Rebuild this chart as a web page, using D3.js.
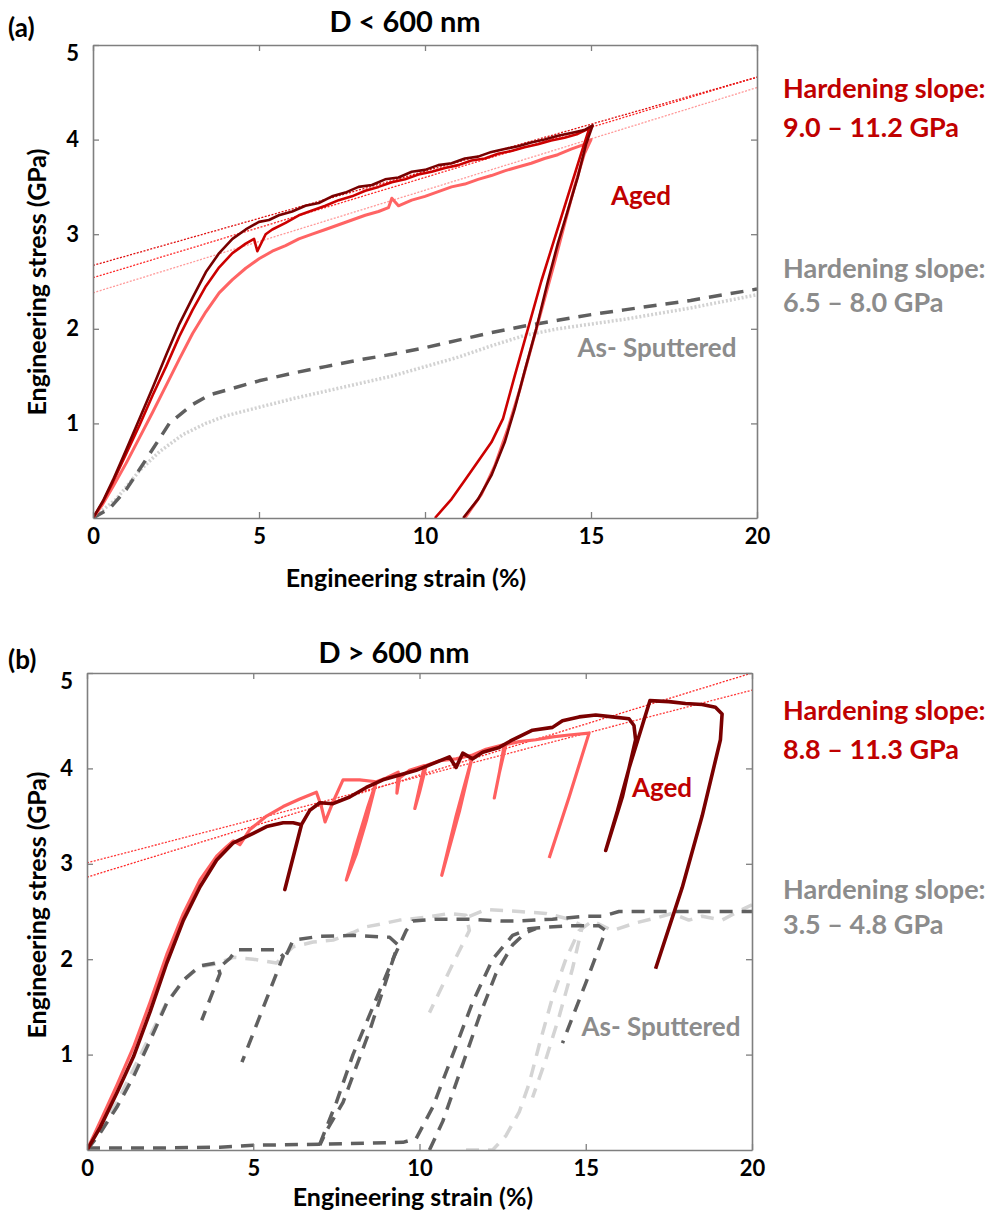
<!DOCTYPE html>
<html><head><meta charset="utf-8">
<script src="https://cdn.jsdelivr.net/npm/d3@7"></script>
<style>
body{margin:0;background:#fff;}
text{font-family:"Lato","Open Sans",sans-serif;font-weight:700;}
</style></head>
<body><svg id="c" width="988" height="1219"></svg>
<script>
// ---------- DATA ----------
const xTicks = [0,5,10,15,20];
const yTicks = [1,2,3,4,5];

// Panel (a)  D < 600 nm
const aAgedDark = [[0,0],[0.3,0.18],[0.6,0.4],[1.0,0.72],[1.4,1.05],[1.8,1.38],[2.2,1.72],[2.6,2.05],[3.0,2.33],[3.4,2.6],[3.8,2.8],[4.2,2.95],[4.6,3.05],[5.0,3.13],[5.3,3.15],[5.6,3.2],[6.0,3.24],[6.4,3.3],[6.8,3.33],[7.2,3.4],[7.6,3.44],[8.0,3.5],[8.4,3.52],[8.8,3.58],[9.2,3.6],[9.6,3.66],[10.0,3.68],[10.4,3.73],[10.8,3.75],[11.2,3.8],[11.6,3.82],[12.0,3.87],[12.4,3.9],[12.8,3.93],[13.2,3.97],[13.6,4.0],[14.0,4.04],[14.4,4.07],[14.8,4.1],[15.05,4.15],
  [14.85,3.95],[14.6,3.6],[14.3,3.25],[14.0,2.9],[13.7,2.5],[13.35,2.0],[13.0,1.55],[12.7,1.15],[12.4,0.8],[12.0,0.45],[11.6,0.2],[11.15,0]];
const aAgedMed = [[0,0],[0.3,0.17],[0.6,0.38],[1.0,0.68],[1.4,0.98],[1.8,1.3],[2.2,1.6],[2.6,1.92],[3.0,2.2],[3.4,2.45],[3.8,2.65],[4.2,2.8],[4.6,2.9],[4.85,2.95],[4.95,2.82],[5.2,3.0],[5.4,3.05],[5.8,3.12],[6.2,3.2],[6.6,3.25],[7.0,3.3],[7.4,3.36],[7.8,3.4],[8.2,3.46],[8.6,3.5],[9.0,3.55],[9.4,3.58],[9.8,3.63],[10.2,3.66],[10.6,3.7],[11.0,3.73],[11.4,3.78],[11.8,3.8],[12.2,3.85],[12.6,3.88],[13.0,3.92],[13.4,3.95],[13.8,3.99],[14.2,4.02],[14.6,4.06],[14.95,4.12],
  [14.7,3.85],[14.3,3.4],[13.9,2.95],[13.5,2.5],[13.1,2.0],[12.7,1.5],[12.35,1.05],[12.0,0.8],[11.6,0.6],[11.2,0.4],[10.8,0.2],[10.3,0]];
const aAgedLight = [[0,0],[0.3,0.15],[0.6,0.33],[1.0,0.58],[1.4,0.85],[1.8,1.12],[2.2,1.4],[2.6,1.68],[3.0,1.95],[3.4,2.18],[3.8,2.38],[4.2,2.52],[4.6,2.64],[5.0,2.74],[5.4,2.82],[5.8,2.88],[6.2,2.95],[6.6,3.0],[7.0,3.05],[7.4,3.1],[7.8,3.15],[8.2,3.2],[8.6,3.24],[8.9,3.28],[9.0,3.38],[9.2,3.3],[9.6,3.36],[10.0,3.4],[10.4,3.45],[10.8,3.5],[11.2,3.53],[11.6,3.58],[12.0,3.62],[12.4,3.67],[12.8,3.71],[13.2,3.75],[13.6,3.8],[14.0,3.84],[14.4,3.9],[14.8,3.95],[15.0,4.0],
  [14.8,3.85],[14.5,3.5],[14.2,3.1],[13.9,2.7],[13.55,2.25],[13.2,1.8],[12.85,1.35],[12.5,0.95],[12.1,0.55],[11.7,0.25],[11.3,0.05],[11.2,0]];
const aSputDark = [[0,0],[0.5,0.1],[1,0.3],[1.6,0.62],[2.3,1.0],[3,1.2],[3.5,1.3],[4.2,1.37],[5,1.45],[6,1.53],[7,1.6],[8,1.67],[9,1.73],[10,1.8],[11,1.88],[12,1.96],[13,2.03],[14,2.09],[15,2.15],[16,2.2],[17,2.25],[18,2.3],[19,2.36],[20,2.42]];
const aSputLight = [[0,0],[0.7,0.2],[1.4,0.5],[2,0.7],[2.7,0.88],[3.4,1.0],[4,1.08],[5,1.17],[6,1.26],[7,1.34],[8,1.42],[9,1.5],[10,1.6],[11,1.7],[12,1.82],[13,1.93],[14,2.0],[15,2.05],[16,2.1],[17,2.16],[18,2.22],[19,2.29],[20,2.36]];
const aFitDark = [[0,2.67],[20,4.66]];
const aFitMed = [[0,2.54],[20,4.66]];
const aFitLight = [[0,2.38],[20,4.55]];

// Panel (b)  D > 600 nm
const bAgedDark = [[0,0],[0.4,0.24],[0.9,0.6],[1.4,0.98],[1.9,1.45],[2.4,1.96],[2.9,2.41],[3.4,2.76],[3.9,3.04],[4.4,3.22],[5.0,3.32],[5.4,3.39],[5.9,3.43],[6.2,3.43],[6.45,3.41],[6.2,3.07],[5.95,2.73],[6.45,3.41],[6.7,3.56],[7.0,3.64],[7.4,3.63],[7.9,3.7],[8.4,3.8],[8.9,3.88],[9.4,3.93],[9.9,3.98],[10.4,4.05],[10.9,4.12],[11.1,4.01],[11.3,4.16],[11.6,4.1],[11.9,4.17],[12.4,4.22],[12.8,4.3],[13.4,4.4],[14.0,4.43],[14.3,4.5],[14.8,4.54],[15.3,4.56],[15.8,4.54],[16.3,4.52],[16.45,4.45],[16.5,4.3],[16.1,3.7],[15.6,3.14],[15.95,3.55],[16.3,4.0],[16.7,4.45],[16.93,4.71],[17.5,4.7],[18,4.68],[18.5,4.67],[18.9,4.64],[19.1,4.57],[19.05,4.3],[18.5,3.5],[17.9,2.75],[17.1,1.9]];
const bAgedLight = [[0,0],[0.4,0.3],[0.9,0.68],[1.4,1.08],[1.9,1.55],[2.4,2.05],[2.9,2.48],[3.4,2.83],[3.9,3.08],[4.2,3.18],[4.4,3.24],[4.6,3.2],[4.9,3.36],[5.4,3.5],[5.9,3.6],[6.4,3.68],[6.9,3.75],[7.05,3.6],[7.16,3.44],[7.4,3.65],[7.7,3.88],[8.2,3.88],[8.7,3.86],[8.4,3.45],[8.1,3.1],[7.8,2.83],[8.1,3.2],[8.45,3.6],[8.7,3.86],[9.0,3.9],[9.36,3.96],[9.32,3.74],[9.4,3.9],[9.7,3.98],[10.15,4.03],[10.0,3.8],[9.86,3.58],[10.0,3.75],[10.2,4.03],[10.6,4.08],[11.1,4.1],[11.6,4.14],[11.2,3.55],[10.67,2.88],[11.1,3.5],[11.6,4.14],[12.0,4.2],[12.55,4.25],[12.4,3.95],[12.25,3.69],[12.4,3.95],[12.6,4.25],[13.0,4.28],[13.5,4.3],[14.0,4.33],[14.5,4.35],[15.1,4.37],[14.5,3.7],[13.9,3.06]];
const bFitA = [[0,2.86],[20,5.0]];
const bFitB = [[0,3.01],[20,4.82]];
const bSputDark = [
  [[0,0],[0.4,0.18],[0.9,0.45],[1.4,0.77],[1.9,1.15],[2.4,1.54],[2.9,1.78],[3.4,1.93],[3.9,1.96],[4.0,1.85],[3.45,1.36]],
  [[4.1,1.95],[4.3,2.01],[4.5,2.1],[5.7,2.1],[5.9,2.03],[4.66,0.92]],
  [[6.0,2.05],[6.2,2.2],[7,2.24],[8,2.25],[9.1,2.23],[9.35,2.15],[8.5,1.25],[7.7,0.5],[7.2,0.2],[7.0,0.05]],
  [[0,0.02],[2,0.02],[4,0.03],[5,0.05],[7,0.06],[9.5,0.08],[9.9,0.12],[10.4,0.45],[11,1.0],[11.6,1.55],[12.2,2.0],[12.8,2.25],[13.3,2.32],[13.6,2.33],[14.5,2.35],[15.4,2.35],[15.6,2.3],[15.0,1.75],[14.3,1.12]],
  [[10.3,0],[10.7,0.3],[11.2,0.8],[11.8,1.4],[12.3,1.85],[12.8,2.15],[13.2,2.28],[13.5,2.32]],
  [[7.0,0.06],[7.5,0.5],[8.0,1.0],[8.6,1.5],[9.2,2.0],[9.6,2.3],[9.8,2.4],[10.5,2.42],[11.5,2.42],[12.5,2.4],[13,2.4],[14,2.42],[15,2.45],[15.5,2.45],[16,2.5],[17,2.5],[18,2.5],[19,2.5],[20,2.5]]
];
const bSputLight = [
  [[0,0],[0.4,0.2],[0.9,0.5],[1.4,0.85],[1.9,1.2],[2.4,1.55],[2.9,1.78],[3.4,1.92],[3.9,1.95],[4.4,2.02],[5.0,2.0],[5.7,1.96],[6.2,2.13],[6.8,2.18],[7.4,2.2],[8.0,2.28],[8.4,2.34],[9.0,2.38],[9.4,2.41],[10.2,2.44],[10.9,2.48],[11.4,2.46],[11.5,2.3],[11.0,1.95],[10.3,1.44]],
  [[11.4,0],[12.2,0.0],[12.6,0.15],[13.0,0.4],[13.3,0.7],[13.6,1.1],[14.0,1.6],[14.4,2.0],[14.8,2.3],[15.2,2.4],[15.8,2.3],[16.5,2.38],[17.2,2.44],[17.6,2.48],[18.1,2.41],[18.5,2.45],[19.1,2.41],[19.7,2.52],[20,2.57]],
  [[11.5,2.45],[12,2.52],[13,2.5],[13.8,2.48],[14.5,2.42],[14.9,2.35],[14.6,1.9],[14.2,1.4],[13.8,0.95],[13.4,0.55]]
];

// ---------- DRAW ----------
const svg = d3.select("#c");
const RED = "#c00000", GRAY = "#8c8c8c";

function panel(cfg){
  const x = d3.scaleLinear().domain([0,20]).range([cfg.x0, cfg.x1]);
  const y = d3.scaleLinear().domain([0,5]).range([cfg.y0, cfg.y1]);
  const g = svg.append("g");
  const clipId = "clip"+cfg.id;
  svg.append("defs").append("clipPath").attr("id",clipId)
    .append("rect").attr("x",cfg.x0).attr("y",cfg.y1).attr("width",cfg.x1-cfg.x0).attr("height",cfg.y0-cfg.y1);
  const line = d3.line().x(d=>x(d[0])).y(d=>y(d[1]));
  const plot = g.append("g").attr("clip-path",`url(#${clipId})`);
  cfg.series.forEach(s=>{
    const segs = s.segments ? s.data : [s.data];
    segs.forEach(seg=>{
      plot.append("path").attr("d",line(seg)).attr("fill","none")
        .attr("stroke",s.color).attr("stroke-width",s.w)
        .attr("stroke-dasharray",s.dash||null)
        .attr("stroke-linejoin","round").attr("stroke-linecap",s.cap||"butt");
    });
  });
  // axes
  const axCol = "#7f7f7f";
  const fmt = d3.format("d");
  const bottom = g.append("g").attr("transform",`translate(0,${cfg.y0})`)
    .call(d3.axisBottom(x).tickValues(xTicks).tickFormat(fmt).tickSizeInner(-6).tickSizeOuter(0).tickPadding(10));
  const top = g.append("g").attr("transform",`translate(0,${cfg.y1})`)
    .call(d3.axisTop(x).tickValues(xTicks).tickSizeInner(-6).tickSizeOuter(0).tickFormat(""));
  const left = g.append("g").attr("transform",`translate(${cfg.x0},0)`)
    .call(d3.axisLeft(y).tickValues(yTicks).tickFormat(fmt).tickSizeInner(-6).tickSizeOuter(0).tickPadding(14));
  const right = g.append("g").attr("transform",`translate(${cfg.x1},0)`)
    .call(d3.axisRight(y).tickValues(yTicks).tickSizeInner(-6).tickSizeOuter(0).tickFormat(""));
  [bottom,top,left,right].forEach(a=>{
    a.select(".domain").attr("stroke",axCol).attr("stroke-width",1.6);
    a.selectAll(".tick line").attr("stroke",axCol).attr("stroke-width",1.3);
    a.selectAll("text").attr("fill","#000").style("font-size","22px").style("font-family","Lato").style("font-weight","700");
  });
  left.selectAll(".tick text").filter(d=>d===5).attr("dy","0.72em");
  // titles
  g.append("text").attr("x",cfg.labX).attr("y",cfg.labY).text(cfg.label).style("font-size","26px");
  g.append("text").attr("x",cfg.titleX).attr("y",cfg.titleY).attr("text-anchor","middle").text(cfg.title).style("font-size","29px");
  g.append("text").attr("transform",`translate(${cfg.ytX},${cfg.ytY}) rotate(-90)`).attr("text-anchor","middle").text("Engineering stress (GPa)").style("font-size","25px");
  g.append("text").attr("x",cfg.xtX).attr("y",cfg.xtY).attr("text-anchor","middle").text("Engineering strain (%)").style("font-size","25px");
  cfg.notes.forEach(n=>{
    g.append("text").attr("x",n[0]).attr("y",n[1]).attr("text-anchor",n[4]||"start").attr("fill",n[3]).text(n[2]).style("font-size",(n[5]||27)+"px");
  });
}

panel({id:"a", x0:93, x1:757, y0:518, y1:45,
  label:"(a)", labX:8, labY:37, title:"D < 600 nm", titleX:405, titleY:32,
  ytX:46, ytY:282, xtX:406, xtY:587,
  series:[
    {data:aSputLight, color:"#d2d2d2", w:3.5, dash:"2,2"},
    {data:aSputDark, color:"#5f5f5f", w:3.5, dash:"13,9"},
    {data:aFitLight, color:"#ff9a9a", w:1.3, dash:"2,1.5"},
    {data:aFitMed, color:"#ff2a2a", w:1.3, dash:"2,1.5"},
    {data:aFitDark, color:"#e01010", w:1.3, dash:"2,1.5"},
    {data:aAgedLight, color:"#ff6464", w:3},
    {data:aAgedMed, color:"#cc0000", w:2.6},
    {data:aAgedDark, color:"#780000", w:2.6}
  ],
  notes:[
    [783,98,"Hardening slope:",RED],[783,137,"9.0 – 11.2 GPa",RED],
    [783,278,"Hardening slope:",GRAY],[783,312,"6.5 – 8.0 GPa",GRAY],
    [641,205,"Aged",RED,"middle",26],[657,357,"As- Sputtered",GRAY,"middle",26]
  ]});

panel({id:"b", x0:87, x1:752, y0:1150, y1:673,
  label:"(b)", labX:8, labY:669, title:"D > 600 nm", titleX:394, titleY:663,
  ytX:46, ytY:905, xtX:413, xtY:1206,
  series:[
    {data:bSputLight, segments:true, color:"#d4d4d4", w:3.5, dash:"13,9"},
    {data:bSputDark, segments:true, color:"#606060", w:3.5, dash:"13,9"},
    {data:bFitA, color:"#ff2a2a", w:1.3, dash:"2,1.5"},
    {data:bFitB, color:"#ff3a3a", w:1.3, dash:"2,1.5"},
    {data:bAgedLight, color:"#ff6060", w:3.2},
    {data:bAgedDark, color:"#7a0000", w:3.6}
  ],
  notes:[
    [783,720,"Hardening slope:",RED],[783,759,"8.8 – 11.3 GPa",RED],
    [783,899,"Hardening slope:",GRAY],[783,934,"3.5 – 4.8 GPa",GRAY],
    [662,797,"Aged",RED,"middle",26],[661,1036,"As- Sputtered",GRAY,"middle",26]
  ]});
</script></body></html>
